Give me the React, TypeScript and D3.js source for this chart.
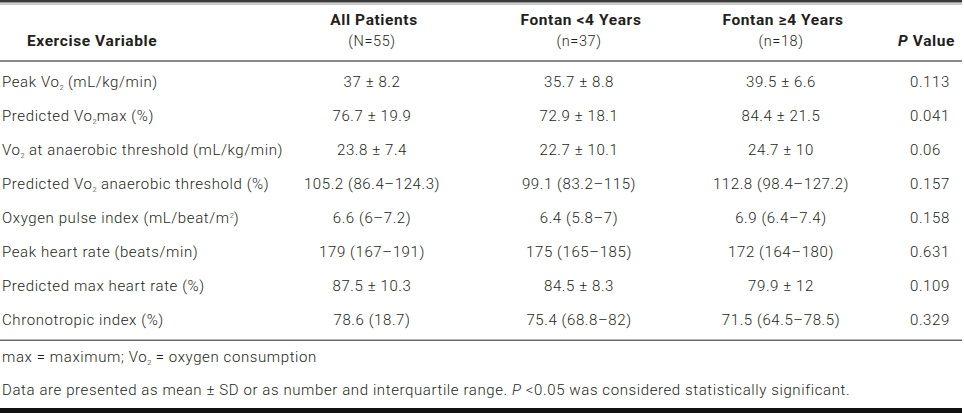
import React from "react";
import * as d3 from "d3";

const rowLabels = [
  "Peak Vo_2 (mL/kg/min)",
  "Predicted Vo_2max (%)",
  "Vo_2 at anaerobic threshold (mL/kg/min)",
  "Predicted Vo_2 anaerobic threshold (%)",
  "Oxygen pulse index (mL/beat/m^2)",
  "Peak heart rate (beats/min)",
  "Predicted max heart rate (%)",
  "Chronotropic index (%)",
];
const groupNames = ["All Patients", "Fontan <4 Years", "Fontan ≥4 Years"];
const groupSizes = ["(N=55)", "(n=37)", "(n=18)"];
const allPatients = ["37 ± 8.2", "76.7 ± 19.9", "23.8 ± 7.4", "105.2 (86.4–124.3)", "6.6 (6–7.2)", "179 (167–191)", "87.5 ± 10.3", "78.6 (18.7)"];
const fontanUnder4 = ["35.7 ± 8.8", "72.9 ± 18.1", "22.7 ± 10.1", "99.1 (83.2–115)", "6.4 (5.8–7)", "175 (165–185)", "84.5 ± 8.3", "75.4 (68.8–82)"];
const fontanOver4 = ["39.5 ± 6.6", "84.4 ± 21.5", "24.7 ± 10", "112.8 (98.4–127.2)", "6.9 (6.4–7.4)", "172 (164–180)", "79.9 ± 12", "71.5 (64.5–78.5)"];
const pValues = ["0.113", "0.041", "0.06", "0.157", "0.158", "0.631", "0.109", "0.329"];
const footnote1 = "max = maximum; Vo_2 = oxygen consumption";
const footnote2a = "Data are presented as mean ± SD or as number and interquartile range. ";
const footnote2b = " <0.05 was considered statistically significant.";

const W = 964;
const H = 413;
const FONT = "Roboto, 'Helvetica Neue', Arial, sans-serif";
const INK = "#231f20";
const LS = 0.6;

function rich(s: string) {
  const parts = s.split(/([_^]\d)/);
  const out: React.ReactNode[] = [];
  let shifted = 0;
  parts.forEach((p, i) => {
    if (!p) return;
    if (p[0] === "_" || p[0] === "^") {
      const dy = p[0] === "_" ? 3 : -5;
      out.push(
        <tspan key={i} fontSize="0.5em" letterSpacing={0} dy={dy - shifted}>
          {p[1]}
        </tspan>
      );
      shifted = dy;
    } else {
      out.push(
        <tspan key={i} dy={-shifted}>
          {p}
        </tspan>
      );
      shifted = 0;
    }
  });
  return out;
}

export default function App() {
  const y = d3
    .scaleBand<number>()
    .domain(d3.range(rowLabels.length))
    .range([65.5, 336.5])
    .paddingInner(0)
    .paddingOuter(0);
  const colX = d3.scaleOrdinal<number, number>().domain([0, 1, 2]).range([372, 579, 781]);
  const groups = [allPatients, fontanUnder4, fontanOver4];
  const pX = 910;

  return (
    <svg
      width={W}
      height={H}
      style={{ position: "absolute", left: 0, top: 0, background: "#fff" }}
      fontFamily={FONT}
      letterSpacing={LS}
    >
      <rect x={0} y={0} width={W} height={H} fill="#fff" />
      {/* top rules */}
      <rect x={0} y={0} width={962} height={2.5} fill="#3a3a3a" />
      <rect x={0} y={3.5} width={962} height={1} fill="#9a9a9a" />
      {/* header */}
      <text x={27} y={46} fontSize={15.5} fontWeight={700} fill={INK}>
        Exercise Variable
      </text>
      {groupNames.map((g, i) => (
        <g key={g}>
          <text x={colX(i) + 2} y={25} fontSize={15.5} fontWeight={700} fill={INK} textAnchor="middle">
            {g}
          </text>
          <text x={colX(i)} y={46} fontSize={14.5} fontWeight={300} fill={INK} textAnchor="middle">
            {groupSizes[i]}
          </text>
        </g>
      ))}
      <text x={955} y={46} fontSize={15.5} fontWeight={700} fill={INK} textAnchor="end">
        <tspan fontStyle="italic">P</tspan> Value
      </text>
      <rect x={0} y={60} width={962} height={2} fill="#8a8a8a" />
      {/* rows */}
      {rowLabels.map((lab, r) => {
        const yy = (y(r) as number) + y.bandwidth() / 2 + 5;
        return (
          <g key={r} fontSize={15} fontWeight={300} fill={INK}>
            <text x={2} y={yy}>
              {rich(lab)}
            </text>
            {groups.map((arr, c) => (
              <text key={c} x={colX(c)} y={yy} textAnchor="middle">
                {arr[r]}
              </text>
            ))}
            <text x={pX} y={yy}>
              {pValues[r]}
            </text>
          </g>
        );
      })}
      <rect x={0} y={339.5} width={962} height={1.5} fill="#6a6a6a" />
      {/* footnotes */}
      <g fontSize={15} fontWeight={300} fill={INK}>
        <text x={2} y={362}>
          {rich(footnote1)}
        </text>
        <text x={2} y={395}>
          {footnote2a}
          <tspan fontStyle="italic">P</tspan>
          {footnote2b}
        </text>
      </g>
      <rect x={0} y={408} width={962} height={5} fill="#111" />
    </svg>
  );
}
